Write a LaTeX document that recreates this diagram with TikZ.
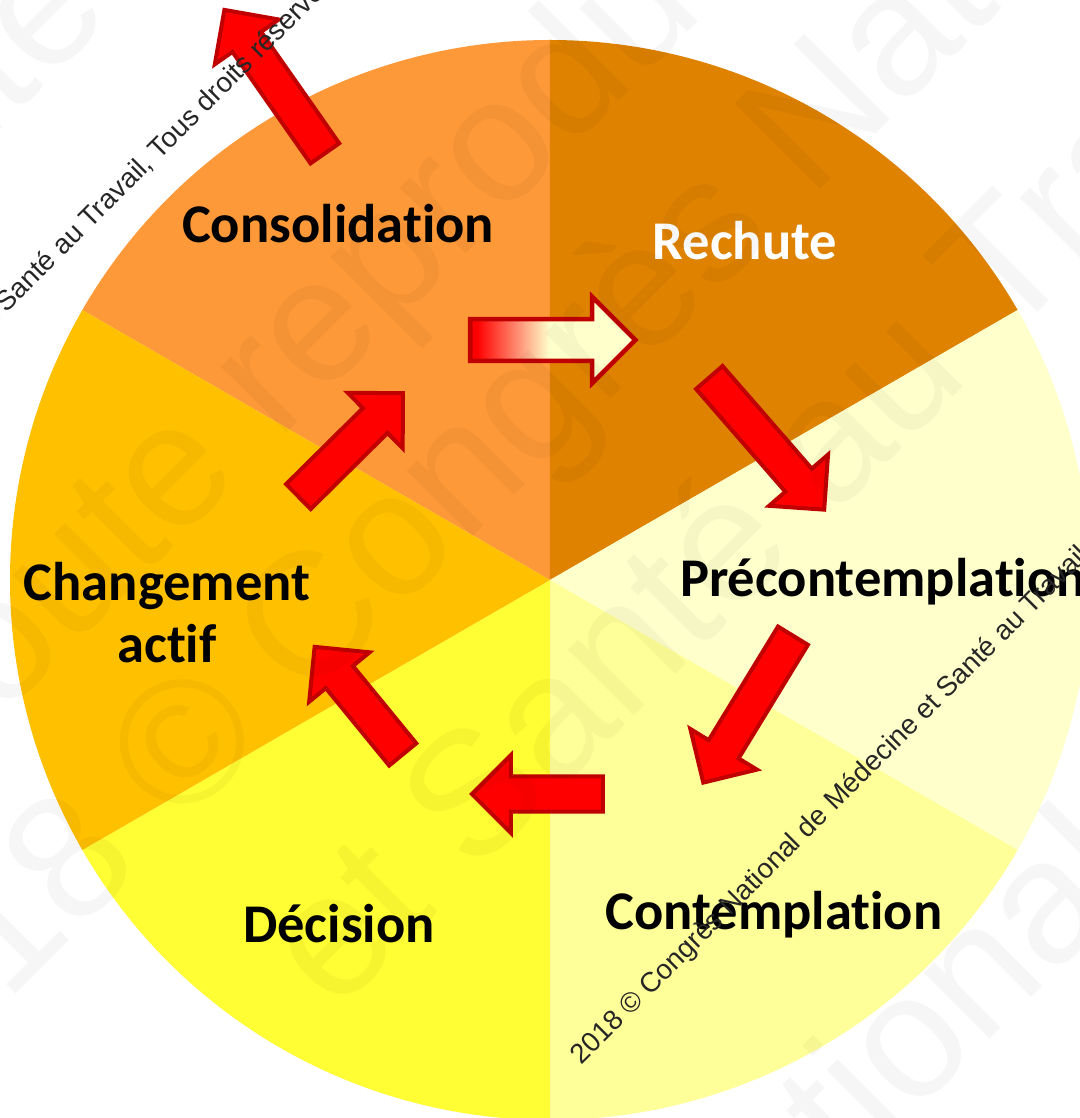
\documentclass[tikz,border=0pt]{standalone}
\usepackage{fontspec}
\setmainfont{Carlito}[Ligatures=NoCommon]
\newfontfamily\markfont{Liberation Sans}
\usetikzlibrary{shapes.arrows}
\definecolor{consolidcol}{RGB}{253,153,56}
\definecolor{rechutecol}{RGB}{222,130,0}
\definecolor{precontcol}{RGB}{255,255,204}
\definecolor{contempcol}{RGB}{255,255,153}
\definecolor{decisioncol}{RGB}{255,253,51}
\definecolor{changecol}{RGB}{255,192,0}
\definecolor{arrowborder}{RGB}{192,0,0}
\pgfdeclarehorizontalshading{relapseshade}{100bp}{color(0bp)=(red); color(27bp)=(red); color(49bp)=(precontcol); color(100bp)=(precontcol)}
\newcommand{\sector}[3]{ \fill[#3] (0,0) -- (#1:540) arc (#1:#2:540) -- cycle;}
\newcommand{\stagearrow}[4]{ \node[stagearrow, rotate=#3, minimum height=#4] (#1) at (#2) {};}
\tikzset{
  stagearrow/.style={single arrow, draw=arrowborder, fill=red, line width=0.04cm, inner xsep=0pt, inner ysep=0.155cm, minimum width=1pt, single arrow head extend=0.215cm, anchor=tail},
  stagename/.style={font=\fontsize{15.5}{17.6}\selectfont\bfseries, anchor=base, inner sep=0pt},
  smallmark/.style={font=\markfont\fontsize{7.9}{9}\selectfont, text=black!85, rotate=45, anchor=base west, inner sep=0pt},
  bigmark/.style={font=\markfont\fontsize{50}{60}\selectfont, text=black, text opacity=0.035, rotate=45, anchor=base west, inner sep=0pt}
}
\begin{document}
\begin{tikzpicture}[x=0.01cm,y=0.01cm]
        \useasboundingbox (-550,-538) rectangle (530,580);
        \fill[white] (-550,-538) rectangle (530,580);
        % wheel
        \sector{90}{150}{consolidcol}
        \sector{30}{90}{rechutecol}
        \sector{-30}{30}{precontcol}
        \sector{-90}{-30}{contempcol}
        \sector{210}{270}{decisioncol}
        \sector{150}{210}{changecol}

        % stages
        \node[stagename] (consolidation) at (-212,337) {Consolidation};
        \node[stagename, text=white] (rechute) at (195,320) {Rechute};
        \node[stagename] (precontemplation) at (333,-17) {Précontemplation};
        \node[stagename] (contemplation) at (224,-349) {Contemplation};
        \node[stagename] (decision) at (-211,-362) {Décision};
        \node[stagename, anchor=center, align=center] (changement) at (-383,-33) {Changement\\actif};

        % arrows
        \stagearrow{exit}{-224,425}{125}{1.75cm}
        \stagearrow{torechute}{158,204}{-49}{1.75cm}
        \stagearrow{toprecont}{244,-54}{-121.4}{1.72cm}
        \stagearrow{tocontemp}{55,-214}{180}{1.31cm}
        \stagearrow{todecision}{-146,-176}{129.3}{1.39cm}
        \stagearrow{tochange}{-253,82}{44.7}{1.47cm}
        \node[stagearrow, shading=relapseshade, line width=0.045cm, inner ysep=0.185cm, single arrow head extend=0.225cm, minimum height=1.65cm] (relapse) at (-82,240) {};

        % watermark
        \node[bigmark, anchor=base east] (markT) at (-435,565) {interdite};
        \node[bigmark] (markA) at (-611,-201) {Toute reproduction};
        \node[bigmark] (markB) at (-682,-562) {2018 © Congrès National};
        \node[bigmark] (markC) at (-215,-435) {et Santé au Travail};
        \node[bigmark] (markD) at (141,-758) {National};
        \node[smallmark] (noteA) at (-910,-100) {2018 © Congrès National de Médecine et Santé au Travail, Tous droits réservés};
        \node[smallmark] (noteB) at (31,-486) {2018 © Congrès National de Médecine et Santé au Travail, Tous droits réservés};
    \end{tikzpicture}
\end{document}
